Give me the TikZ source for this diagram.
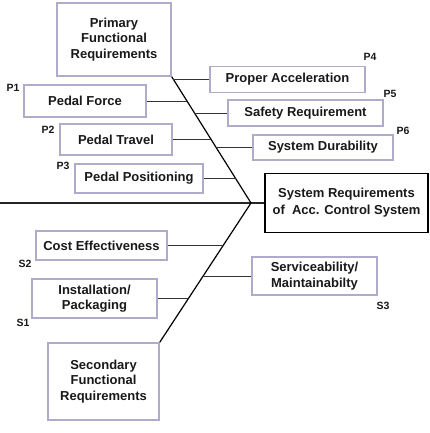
\documentclass[tikz,border=0pt]{standalone}
\usepackage{fontspec}
\setmainfont{Liberation Sans}
\definecolor{boxline}{RGB}{178,170,202}
\definecolor{txt}{RGB}{25,25,25}
\tikzset{
  req/.style={draw=boxline,line width=1.5pt,fill=white,inner sep=0pt,align=center,
    font=\fontsize{13}{15.5}\selectfont\bfseries,text=txt},
  mainbox/.style={draw=black,line width=1.8pt,fill=white,inner sep=0pt,align=center,
    font=\fontsize{13}{17}\selectfont\bfseries,text=txt},
  tag/.style={font=\fontsize{10.5}{12}\selectfont\bfseries,text=txt,inner sep=0pt},
  spine/.style={draw=black!85,line width=1.6pt},
  bone/.style={draw=black,line width=1.2pt},
  branch/.style={draw=black!80,line width=0.8pt}
}
\begin{document}
\begin{tikzpicture}[x=1pt,y=-1pt]
\useasboundingbox (0,0) rectangle (429,433);
% boxes
\node[req,minimum width=114pt,minimum height=73pt] (prim) at (114,39.5) {Primary\\Functional\\Requirements};
\node[req,minimum width=122pt,minimum height=32pt] (pf) at (85,101) {Pedal Force};
\node[req,minimum width=112pt,minimum height=31pt] (pt) at (116,139.5) {Pedal Travel};
\node[req,minimum width=128pt,minimum height=29pt] (pp) at (139,178.5) {Pedal Positioning};
\node[req,minimum width=155pt,minimum height=26pt] (pa) at (287.5,79.5) {Proper Acceleration};
\node[req,minimum width=155pt,minimum height=26pt] (sr) at (305.5,113) {Safety Requirement};
\node[req,minimum width=140pt,minimum height=25pt] (sd) at (323,147.5) {System Durability};
\node[mainbox,minimum width=163pt,minimum height=59pt] (sys) at (346.5,203) {System Requirements\\of \ Acc. Control System};
\node[req,minimum width=131pt,minimum height=29pt] (ce) at (101.5,245.5) {Cost Effectiveness};
\node[req,minimum width=125pt,minimum height=39pt] (ip) at (94.5,298.5) {Installation/\\Packaging};
\node[req,minimum width=125pt,minimum height=38pt] (sv) at (314.5,276) {Serviceability/\\Maintainabilty};
\node[req,minimum width=111pt,minimum height=77pt] (sec) at (103.5,381.5) {Secondary\\Functional\\Requirements};
% tags
\node[tag] (p1) at (13,88) {P1};
\node[tag] (p2) at (48,130) {P2};
\node[tag] (p3) at (63,166) {P3};
\node[tag] (p4) at (370,57) {P4};
\node[tag] (p5) at (390,94) {P5};
\node[tag] (p6) at (403,131) {P6};
\node[tag] (s2) at (25,264) {S2};
\node[tag] (s1) at (23,323) {S1};
\node[tag] (s3) at (383,306) {S3};
% spine and bones
\coordinate (tail) at (0,203);
\coordinate (vx) at (251,203);
\draw[spine] (tail) -- (vx) -- (sys.west);
\draw[bone] (prim.south east) -- (vx) -- (sec.north east);
% points on the bones
\coordinate (u1) at (173.2,79.5);
\coordinate (u2) at (186.7,101);
\coordinate (u3) at (194.3,113);
\coordinate (u4) at (211,139.5);
\coordinate (u5) at (216,147.5);
\coordinate (u6) at (235.6,178.5);
\coordinate (l1) at (223.1,245.5);
\coordinate (l2) at (203,276);
\coordinate (l3) at (188.3,298.5);
% branches
\draw[branch] (u1) -- (pa.west);
\draw[branch] (pf.east) -- (pf.east -| u2);
\draw[branch] (u3) -- (sr.west);
\draw[branch] (pt.east) -- (pt.east -| u4);
\draw[branch] (u5) -- (sd.west);
\draw[branch] (pp.east) -- (pp.east -| u6);
\draw[branch] (ce.east) -- (ce.east -| l1);
\draw[branch] (l2) -- (sv.west);
\draw[branch] (ip.east) -- (ip.east -| l3);
\end{tikzpicture}
\end{document}
